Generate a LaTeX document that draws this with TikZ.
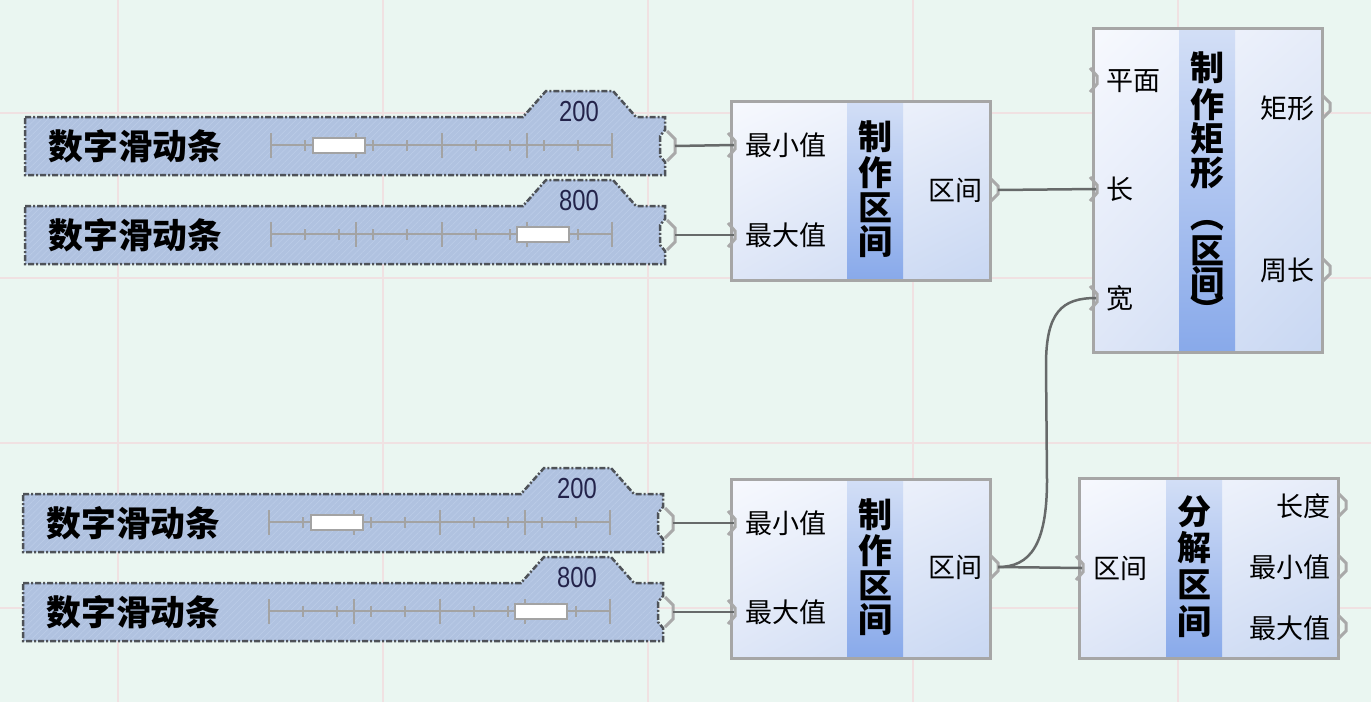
\documentclass[tikz,border=0pt]{standalone}
\usepackage{fontspec}
\newfontfamily\cjk{Noto Sans CJK SC}
\newfontfamily\numf{Liberation Sans}
\usetikzlibrary{patterns.meta,shadings}
\definecolor{bg}{HTML}{EAF6F1}
\definecolor{gridc}{HTML}{F0E1E2}
\definecolor{slfill}{HTML}{B0C2E0}
\definecolor{slhatch}{HTML}{BACBE7}
\definecolor{sledge}{HTML}{4E5258}
\definecolor{portc}{HTML}{A9A9A9}
\definecolor{wirec}{HTML}{676A6A}
\definecolor{boxedge}{HTML}{A6A6A6}
\definecolor{tickc}{HTML}{A3A3A3}
\definecolor{numc}{HTML}{23234A}
\definecolor{bxUL}{HTML}{F7F9FE}
\definecolor{bxUR}{HTML}{E6ECF9}
\definecolor{bxLL}{HTML}{DEE6F7}
\definecolor{bxLR}{HTML}{C8D7F2}
\definecolor{bandT}{HTML}{D3DFF6}
\definecolor{bandB}{HTML}{88A9EA}

\newcommand\slider[5]{% name, xshift, yshift (body top), value, knob x
\begin{scope}[shift={(#2,#3)}]
 \path[preaction={fill=slfill}, pattern={Lines[angle=45,distance=2.2pt,line width=0.35pt]}, pattern color=slhatch,
   draw=sledge, line width=1.25pt, dash pattern=on 3pt off 1pt on 1pt off 1pt]
   (25,0) -- (523,0) -- (546,-26) -- (613,-26) -- (636,0) -- (665,0) -- (665,13) -- (660,19) -- (660,39) -- (665,45) -- (665,58) -- (25,58) -- cycle;
 \draw[tickc, line width=1pt] (271,28) -- (612,28);
 \foreach \i in {0,...,10} \draw[tickc, line width=1pt] ({271+34.1*\i},23) -- ++(0,11);
 \foreach \i in {0,...,4} \draw[tickc, line width=1pt] ({271+85.25*\i},16) -- ++(0,25);
 \draw[fill=white, draw=tickc, line width=1.1pt] ({#5-26},21) rectangle ({#5+26},36);
 \node[font=\numf\fontsize{14.5}{14.5}\selectfont, text=numc, xscale=0.82, inner sep=0pt] (#1v) at (579,-5.5) {#4};
 \node[font=\cjk\bfseries\fontsize{17.4}{17.4}\selectfont, anchor=west, inner sep=0pt] (#1l) at (48,29) {数字滑动条};
 \draw[port] (667,14) -- (675,22) -- (675,36) -- (667,44);
 \coordinate (#1o) at (675,29);
\end{scope}}

\newcommand\compbox[7]{% name x0 y0 x1 y1 bx0 bx1
 \shade[upper left=bxUL, upper right=bxUR, lower left=bxLL, lower right=bxLR] (#2,#3) rectangle (#4,#5);
 \shade[top color=bandT, bottom color=bandB] (#6,#3) rectangle (#7,#5);
 \draw[boxedge, line width=1.5pt] (#2,#3) rectangle (#4,#5);
 \coordinate (#1) at (#2,#3);
}
\newcommand\inport[3]{% name x y
 \draw[port] ({#2-3},{#3-12}) -- ({#2+4},{#3-4}) -- ({#2+4},{#3+4}) -- ({#2-3},{#3+12});
 \coordinate (#1) at ({#2+3},#3);
}
\newcommand\outport[3]{% name x y
 \draw[port] (#2,{#3-12}) -- ({#2+8},{#3-4}) -- ({#2+8},{#3+4}) -- (#2,{#3+12});
 \coordinate (#1) at ({#2+8},#3);
}
\newcommand\vparen[1]{\rotatebox[origin=c]{-90}{#1}}

\begin{document}
\begin{tikzpicture}[x=0.5pt,y=-0.5pt,
  wire/.style={draw=wirec, line width=1.25pt},
  port/.style={draw=portc, line width=1.5pt},
  plabel/.style={font=\cjk\fontsize{13.5}{13.5}\selectfont, inner sep=0pt},
  ttl/.style={font=\cjk\bfseries\fontsize{17}{17}\selectfont, inner sep=0pt}]
\useasboundingbox (0,0) rectangle (1371,702);
\fill[bg] (0,0) rectangle (1371,702);
% grid
\foreach \gx in {118,383,648,913,1178} \draw[gridc, line width=1pt] (\gx,0) -- (\gx,702);
\foreach \gy in {113,278,443,608} \draw[gridc, line width=1pt] (0,\gy) -- (1371,\gy);

% sliders
\slider{sa}{0}{117}{200}{339}
\slider{sb}{0}{206}{800}{543}
\slider{sc}{-2}{494}{200}{339}
\slider{sd}{-2}{583}{800}{543}

% boxes
\compbox{A}{731}{101}{990}{280}{847}{903}
\compbox{A2}{731}{479}{990}{658}{847}{903}
\compbox{B}{1093}{28}{1322}{352}{1179}{1235}
\compbox{C}{1079}{478}{1338}{658}{1166}{1222}

% labels box A
\node[plabel, anchor=west] (Amin) at (745,145) {最小值};
\node[plabel, anchor=west] (Amax) at (745,235) {最大值};
\node[plabel, anchor=east] (Aout) at (983,190) {区间};
\foreach \c/\yy [count=\i] in {制/137,作/173,区/208,间/242} \node[ttl, name=At\i] at (875,\yy) {\c};
% labels box A2
\node[plabel, anchor=west] (A2min) at (745,523) {最小值};
\node[plabel, anchor=west] (A2max) at (745,612) {最大值};
\node[plabel, anchor=east] (A2out) at (983,567) {区间};
\foreach \c/\yy [count=\i] in {制/515,作/551,区/586,间/620} \node[ttl, name=A2t\i] at (875,\yy) {\c};
% labels box B
\node[plabel, anchor=west] (Bpl) at (1106,81) {平面};
\node[plabel, anchor=west] (Blen) at (1106,189) {长};
\node[plabel, anchor=west] (Bwid) at (1106,298) {宽};
\node[plabel, anchor=east] (Brect) at (1315,108) {矩形};
\node[plabel, anchor=east] (Bper) at (1315,270) {周长};
\node[ttl, align=center, anchor=north] (Bt) at (1207,51)
  {制\\[1.5pt]作\\矩\\形\\[4.5pt]\vparen{（}\\[0.5pt]区\\[-1pt]间\\[-3pt]\vparen{）}};
% labels box C
\node[plabel, anchor=west] (Cin) at (1093,568) {区间};
\node[plabel, anchor=east] (Clen) at (1331,506) {长度};
\node[plabel, anchor=east] (Cmin) at (1331,567) {最小值};
\node[plabel, anchor=east] (Cmax) at (1331,628) {最大值};
\foreach \c/\yy [count=\i] in {分/512,解/548,区/585,间/622} \node[ttl, name=Ct\i] at (1194,\yy) {\c};

% ports
\inport{Ai1}{731}{145} \inport{Ai2}{731}{235} \outport{Ao}{990}{190}
\inport{A2i1}{731}{523} \inport{A2i2}{731}{612} \outport{A2o}{990}{567}
\inport{Bi1}{1093}{80} \inport{Bi2}{1093}{189} \inport{Bi3}{1093}{298}
\outport{Bo1}{1322}{107} \outport{Bo2}{1322}{270}
\inport{Ci}{1079}{568}
\outport{Co1}{1338}{505} \outport{Co2}{1338}{567} \outport{Co3}{1338}{627}

% wires
\draw[wire] (sao) -- (Ai1);
\draw[wire] (sbo) -- (Ai2);
\draw[wire] (sco) -- (A2i1);
\draw[wire] (sdo) -- (A2i2);
\draw[wire] (Ao) -- (Bi2);
\draw[wire] (A2o) -- (Ci);
\draw[wire] (A2o) .. controls (1030,567) and (1047,545) .. (1047,480) -- (1046,365) .. controls (1046,312) and (1062,298) .. (Bi3);
\end{tikzpicture}
\end{document}
